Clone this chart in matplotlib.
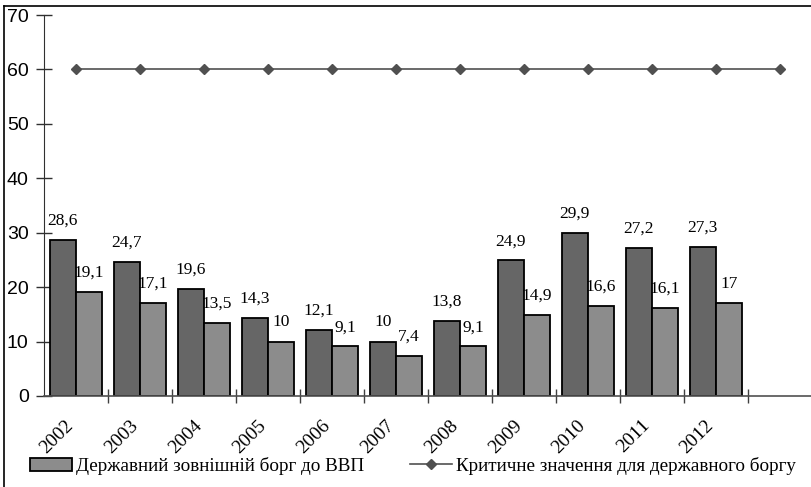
import matplotlib
matplotlib.use("Agg")
import matplotlib.pyplot as plt
import numpy as np
from matplotlib.lines import Line2D
from matplotlib.patches import Patch

years = ["2002", "2003", "2004", "2005", "2006", "2007", "2008", "2009", "2010", "2011", "2012"]
external_debt = [28.6, 24.7, 19.6, 14.3, 12.1, 10, 13.8, 24.9, 29.9, 27.2, 27.3]
second_debt = [19.1, 17.1, 13.5, 10, 9.1, 7.4, 9.1, 14.9, 16.6, 16.1, 17]
critical = [60] * 12
legend_labels = ["Державний зовнішній борг до ВВП", "Критичне значення для державного боргу"]

serif = "Liberation Serif"
sans = "Liberation Sans"

fig = plt.figure(figsize=(8.12, 4.87), dpi=100)
ax = fig.add_axes([44/812, 1-396/487, 1-44/812, (396-15)/487])

n = len(critical)
x = np.arange(n)
bw = 0.41
xb = np.arange(len(years))
ax.bar(xb - bw/2, external_debt, bw, color="#666666", edgecolor="black", linewidth=1.3, zorder=2)
ax.bar(xb + bw/2, second_debt, bw, color="#8c8c8c", edgecolor="black", linewidth=1.3, zorder=2)
ax.plot(x, critical, color="#505050", marker="D", markersize=5.5, linewidth=1.2, zorder=3)

def fmt(v):
    return ("%g" % v).replace(".", ",")

for xi, v in zip(xb - bw/2, external_debt):
    ax.annotate(fmt(v), (xi, v), xytext=(0, 11), textcoords="offset points",
                ha="center", va="baseline", fontsize=12.5, family=serif)
for xi, v in zip(xb + bw/2, second_debt):
    ax.annotate(fmt(v), (xi, v), xytext=(0, 11), textcoords="offset points",
                ha="center", va="baseline", fontsize=12.5, family=serif)

ax.set_xlim(-0.5, n - 0.5)
ax.set_ylim(0, 70)
ax.set_yticks(range(0, 71, 10))
for lab in ax.get_yticklabels():
    lab.set_family(sans)
    lab.set_fontsize(14)
ax.tick_params(axis="y", direction="inout", length=12, width=1, pad=5, colors="#303030", labelcolor="black")

ax.set_xticks(np.arange(n) + 0.5)
ax.set_xticklabels([])
ax.tick_params(axis="x", direction="inout", length=10, width=1, colors="#404040")
for xi, y in zip(xb, years):
    ax.annotate(y, (xi - 0.17, 0), xytext=(0, -15), textcoords="offset points",
                rotation=45, ha="right", va="top", rotation_mode="anchor",
                fontsize=14, family=serif, annotation_clip=False)

ax.spines["top"].set_visible(False)
ax.spines["right"].set_visible(False)
ax.spines["left"].set_color("#303030")
ax.spines["bottom"].set_color("#505050")
ax.spines["bottom"].set_linewidth(1.2)

handles = [Patch(facecolor="#8c8c8c", edgecolor="black", linewidth=1.3),
           Line2D([0], [0], color="#505050", marker="D", markersize=5, linewidth=1.2)]
fig.legend(handles, legend_labels, loc="center left", bbox_to_anchor=(30/812, 1-466/487),
           ncol=2, frameon=False, prop={"family": serif, "size": 13.8},
           handlelength=2.2, handletextpad=0.2, columnspacing=2.4, borderaxespad=0, borderpad=0)

# outer chart border (left and top)
fig.add_artist(Line2D([4/812, 4/812], [0, 1-6/487], color="black", linewidth=1.2, transform=fig.transFigure))
fig.add_artist(Line2D([4/812, 1], [1-6/487, 1-6/487], color="black", linewidth=1.2, transform=fig.transFigure))

fig.savefig("out.png", dpi=100)
